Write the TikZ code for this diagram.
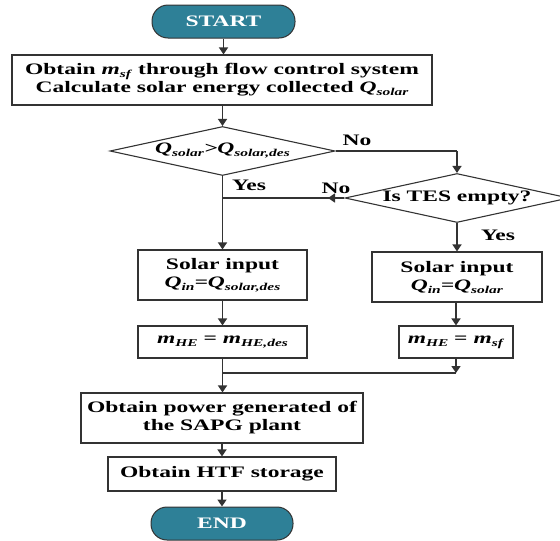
\documentclass[tikz,border=0pt]{standalone}
\usepackage{fontspec}
\setmainfont[FakeStretch=1.47]{Liberation Serif}
\usetikzlibrary{arrows.meta,shapes.geometric}
\definecolor{teal1}{HTML}{2E8097}
\definecolor{line1}{HTML}{333333}
\newcommand{\vv}[2]{\textit{#1}\raisebox{-3pt}{\fontsize{10.5}{10.5}\selectfont\textit{#2}}}
\begin{document}
\begin{tikzpicture}[x=1pt,y=-1pt,
  txt/.style={font=\bfseries\fontsize{16}{18}\selectfont},
  term/.style={draw=line1, line width=1pt, fill=teal1, rounded corners=16pt, text=white, txt, minimum width=143pt, minimum height=33pt, inner sep=0pt},
  box/.style={draw=line1, line width=1.1pt, fill=white, txt, align=center, inner sep=0pt},
  dec/.style={draw=line1, line width=1.1pt, diamond, minimum width=#1, minimum height=49pt, inner sep=0pt},
  arr/.style={draw=line1, line width=1.5pt, -{Triangle[width=9pt,length=7pt]}},
  ln/.style={draw=line1, line width=1.5pt},
  lab/.style={txt, inner sep=0pt}
]
\useasboundingbox (0,0) rectangle (560,541);
\clip (0,0) rectangle (560,541);
\node[term] (start) at (223.5,21.5) {START};
\node[box, minimum width=420pt, minimum height=50pt] (box1) at (222,80) {Obtain \vv{m}{sf} through flow control system\\Calculate solar energy collected \vv{Q}{solar}};
\node[dec=225pt] (d1) at (222.5,151) {};
\node[txt] at (d1) {\vv{Q}{solar}\textit{>}\vv{Q}{solar,des}};
\node[dec=224pt] (d2) at (457,198) {};
\node[txt] at (d2) {Is TES empty?};
\node[box, minimum width=169pt, minimum height=50pt] (lb1) at (222.5,275) {Solar input\\\vv{Q}{in}\textit{=}\vv{Q}{solar,des}};
\node[box, minimum width=170pt, minimum height=50pt] (rb1) at (457,277) {Solar input\\\vv{Q}{in}\textit{=}\vv{Q}{solar}};
\node[box, minimum width=169pt, minimum height=32pt] (lb2) at (222.5,342) {\vv{m}{HE} = \vv{m}{HE,des}};
\node[box, minimum width=114pt, minimum height=32pt] (rb2) at (456,342) {\vv{m}{HE} = \vv{m}{sf}};
\node[box, minimum width=282pt, minimum height=50pt] (pb) at (222,418) {Obtain power generated of\\the SAPG plant};
\node[box, minimum width=228pt, minimum height=34pt] (hb) at (222,474) {Obtain HTF storage};
\node[term, minimum width=142pt] (end) at (222,523.5) {END};
\coordinate (m1) at (456,373);
\coordinate (j1) at (222.5,373);
\coordinate (j2) at (222.5,198);
\coordinate (t1) at (328,198);
\draw[arr] (start) -- (start |- box1.north);
\draw[arr] (box1.south -| d1) -- (d1.north);
\draw[ln] (d1.east) -- (d1.east -| d2.north);
\draw[arr] (d1.east -| d2.north) -- (d2.north);
\draw[arr] (d1.south) -- (lb1.north);
\draw[ln] (d2.west) -- (j2);
\draw[arr] (d2.west) -- (t1);
\draw[arr] (d2.south) -- (rb1.north);
\draw[arr] (lb1.south) -- (lb2.north);
\draw[arr] (rb1.south -| rb2) -- (rb2.north);
\draw[arr] (lb2.south) -- (pb.north -| lb2);
\draw[arr] (rb2.south) -- (m1);
\draw[ln] (m1) -- (j1);
\draw[arr] (pb.south) -- (hb.north);
\draw[arr] (hb.south) -- (end.north);
\node[lab] at (357,140) {No};
\node[lab] at (249,185) {Yes};
\node[lab] at (336,188) {No};
\node[lab] at (498,235) {Yes};
\end{tikzpicture}
\end{document}
